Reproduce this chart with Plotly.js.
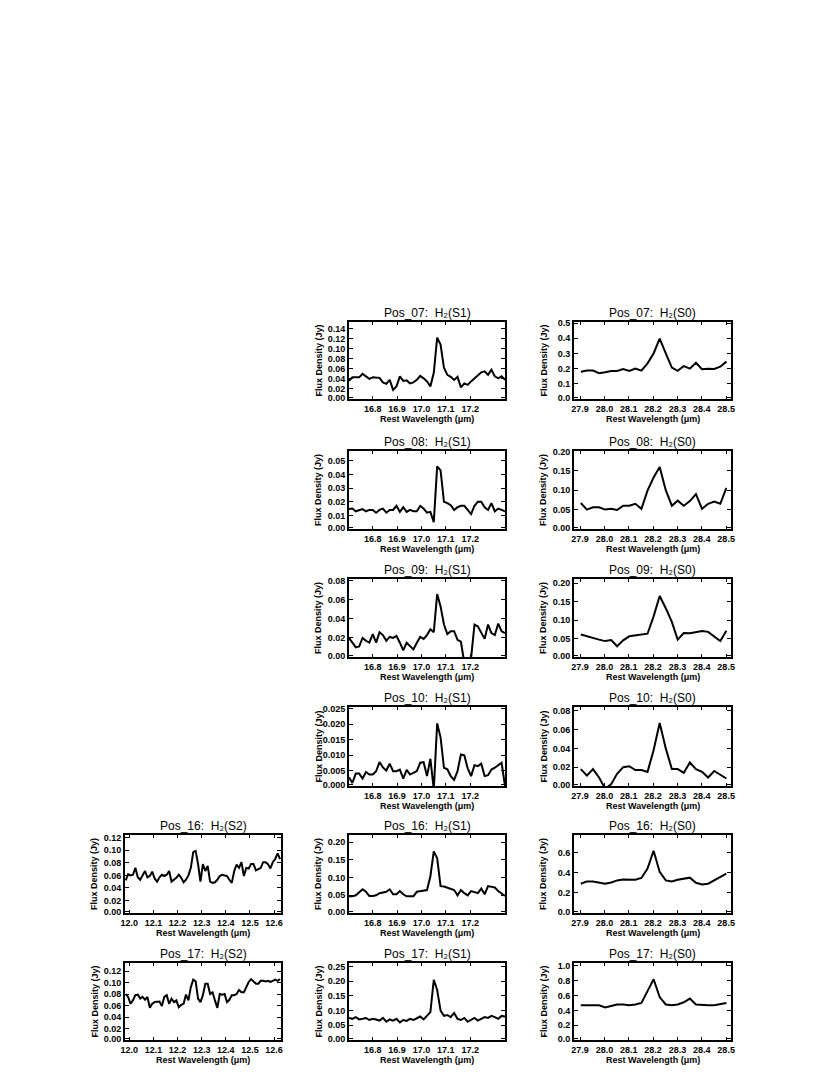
<!DOCTYPE html>
<html>
<head>
<meta charset="utf-8">
<script src="https://cdn.plot.ly/plotly-3.0.1.min.js"></script>
<style>
  body { margin: 0; background: #fff; }
  #plot { width: 830px; height: 1075px; }
</style>
</head>
<body>
<div id="plot"></div>
<script>
// wavelength grids (micron)
var lamS2 = [11.985, 11.995, 12.005, 12.015, 12.025, 12.035, 12.045, 12.055, 12.065, 12.075,
  12.085, 12.095, 12.105, 12.115, 12.125, 12.135, 12.145, 12.155, 12.165, 12.175,
  12.185, 12.195, 12.205, 12.215, 12.225, 12.235, 12.245, 12.255, 12.265, 12.275,
  12.285, 12.295, 12.305, 12.315, 12.325, 12.335, 12.345, 12.355, 12.365, 12.375,
  12.385, 12.395, 12.405, 12.415, 12.425, 12.435, 12.445, 12.455, 12.465, 12.475,
  12.485, 12.495, 12.505, 12.515, 12.525, 12.535, 12.545, 12.555, 12.565, 12.575,
  12.585, 12.595, 12.605, 12.615, 12.625];
var lamS1 = [16.7030, 16.7169, 16.7308, 16.7447, 16.7586, 16.7725, 16.7864, 16.8003, 16.8142, 16.8281,
  16.8420, 16.8559, 16.8698, 16.8837, 16.8976, 16.9115, 16.9254, 16.9393, 16.9532, 16.9671,
  16.9810, 16.9949, 17.0088, 17.0227, 17.0366, 17.0505, 17.0644, 17.0783, 17.0922, 17.1061,
  17.1200, 17.1339, 17.1478, 17.1617, 17.1756, 17.1895, 17.2034, 17.2173, 17.2312, 17.2451,
  17.2590, 17.2729, 17.2868, 17.3007, 17.3146, 17.3285, 17.3424];
var lamS0 = [27.903, 27.928, 27.953, 27.978, 28.003, 28.028, 28.052, 28.077, 28.102, 28.127,
  28.152, 28.177, 28.202, 28.227, 28.252, 28.277, 28.301, 28.326, 28.351, 28.376,
  28.401, 28.426, 28.451, 28.476, 28.501];

// flux densities (Jy)
var pos07S1 = [0.036, 0.043, 0.043, 0.043, 0.050, 0.045, 0.040, 0.043, 0.043, 0.042,
  0.033, 0.030, 0.038, 0.018, 0.025, 0.045, 0.036, 0.037, 0.031, 0.033,
  0.038, 0.046, 0.041, 0.035, 0.025, 0.052, 0.122, 0.108, 0.062, 0.048,
  0.044, 0.038, 0.044, 0.023, 0.031, 0.028, 0.035, 0.041, 0.045, 0.053,
  0.055, 0.048, 0.058, 0.045, 0.041, 0.045, 0.038];
var pos08S1 = [0.0146, 0.015, 0.013, 0.014, 0.0146, 0.013, 0.014, 0.014, 0.012, 0.014,
  0.015, 0.012, 0.014, 0.014, 0.017, 0.0126, 0.016, 0.0126, 0.014, 0.013,
  0.013, 0.017, 0.015, 0.012, 0.0126, 0.005, 0.046, 0.043, 0.020, 0.019,
  0.0175, 0.014, 0.016, 0.017, 0.017, 0.014, 0.011, 0.017, 0.020, 0.020,
  0.016, 0.014, 0.019, 0.013, 0.015, 0.014, 0.013];
var pos09S1 = [0.020, 0.015, 0.010, 0.011, 0.020, 0.017, 0.015, 0.024, 0.015, 0.026,
  0.023, 0.017, 0.021, 0.020, 0.022, 0.015, 0.007, 0.015, 0.012, 0.008,
  0.015, 0.021, 0.019, 0.023, 0.029, 0.026, 0.066, 0.053, 0.034, 0.024,
  0.027, 0.027, 0.018, 0.016, -0.006, -0.010, -0.001, 0.034, 0.032, 0.025,
  0.019, 0.034, 0.025, 0.023, 0.035, 0.027, 0.025];
var pos10S1 = [0.0028, 0.001, 0.004, 0.004, 0.0024, 0.0045, 0.0037, 0.0037, 0.0048, 0.0077,
  0.006, 0.005, 0.0072, 0.0048, 0.0048, 0.0053, 0.0024, 0.0052, 0.0037, 0.0042,
  0.0048, 0.0075, 0.0077, 0.0032, 0.0088, -0.0012, 0.0202, 0.0157, 0.0059, 0.0054,
  0.0032, 0.002, 0.0048, 0.0102, 0.0099, 0.0057, 0.0032, 0.0067, 0.0064, 0.0072,
  0.0032, 0.0035, 0.0053, 0.0059, 0.0067, 0.0075, 0.000];
var pos16S1 = [0.047, 0.047, 0.050, 0.058, 0.067, 0.060, 0.048, 0.048, 0.050, 0.056,
  0.058, 0.060, 0.067, 0.053, 0.053, 0.062, 0.053, 0.047, 0.047, 0.047,
  0.060, 0.062, 0.062, 0.065, 0.104, 0.174, 0.155, 0.076, 0.075, 0.072,
  0.069, 0.065, 0.050, 0.065, 0.056, 0.050, 0.062, 0.060, 0.056, 0.069,
  0.053, 0.076, 0.075, 0.072, 0.062, 0.056, 0.048];
var pos17S1 = [0.075, 0.072, 0.078, 0.070, 0.072, 0.075, 0.068, 0.072, 0.070, 0.066,
  0.075, 0.062, 0.070, 0.066, 0.072, 0.060, 0.068, 0.065, 0.072, 0.068,
  0.074, 0.080, 0.070, 0.082, 0.095, 0.205, 0.170, 0.100, 0.082, 0.085,
  0.078, 0.092, 0.072, 0.068, 0.075, 0.062, 0.070, 0.075, 0.066, 0.072,
  0.078, 0.075, 0.082, 0.078, 0.072, 0.082, 0.080];

var pos07S0 = [0.180, 0.187, 0.187, 0.170, 0.176, 0.185, 0.185, 0.198, 0.185, 0.200,
  0.187, 0.235, 0.300, 0.398, 0.300, 0.207, 0.185, 0.217, 0.200, 0.239,
  0.196, 0.200, 0.198, 0.213, 0.246];
var pos08S0 = [0.067, 0.050, 0.056, 0.056, 0.050, 0.052, 0.049, 0.060, 0.060, 0.065,
  0.052, 0.099, 0.133, 0.160, 0.100, 0.060, 0.073, 0.060, 0.072, 0.090,
  0.052, 0.065, 0.071, 0.065, 0.106];
var pos09S0 = [0.061, 0.056, 0.050, 0.047, 0.043, 0.046, 0.029, 0.045, 0.056, 0.058,
  0.061, 0.063, 0.110, 0.165, 0.132, 0.095, 0.047, 0.065, 0.064, 0.067,
  0.070, 0.068, 0.056, 0.043, 0.071];
var pos10S0 = [0.018, 0.011, 0.018, 0.009, -0.003, 0.002, 0.013, 0.020, 0.021, 0.017,
  0.017, 0.015, 0.038, 0.067, 0.040, 0.018, 0.018, 0.014, 0.025, 0.018,
  0.015, 0.009, 0.016, 0.012, 0.008];
var pos16S0 = [0.290, 0.313, 0.313, 0.303, 0.290, 0.303, 0.323, 0.333, 0.333, 0.330,
  0.347, 0.440, 0.617, 0.407, 0.323, 0.313, 0.330, 0.340, 0.350, 0.300,
  0.283, 0.290, 0.323, 0.350, 0.390];
var pos17S0 = [0.47, 0.47, 0.47, 0.47, 0.44, 0.46, 0.48, 0.48, 0.47, 0.48,
  0.50, 0.66, 0.82, 0.58, 0.48, 0.47, 0.48, 0.51, 0.56, 0.48,
  0.47, 0.47, 0.47, 0.48, 0.50];

var pos16S2 = [0.052, 0.062, 0.060, 0.061, 0.072, 0.057, 0.053, 0.059, 0.067, 0.057,
  0.059, 0.066, 0.055, 0.050, 0.057, 0.061, 0.059, 0.061, 0.067, 0.050,
  0.053, 0.056, 0.061, 0.056, 0.049, 0.053, 0.060, 0.072, 0.097, 0.099,
  0.078, 0.050, 0.078, 0.067, 0.075, 0.050, 0.048, 0.049, 0.053, 0.059,
  0.061, 0.060, 0.059, 0.053, 0.048, 0.067, 0.077, 0.072, 0.081, 0.059,
  0.072, 0.071, 0.078, 0.078, 0.068, 0.070, 0.072, 0.081, 0.081, 0.078,
  0.071, 0.081, 0.086, 0.095, 0.086];
var pos17S2 = [0.080, 0.075, 0.063, 0.069, 0.078, 0.079, 0.072, 0.075, 0.070, 0.075,
  0.056, 0.063, 0.066, 0.066, 0.067, 0.059, 0.075, 0.078, 0.063, 0.072,
  0.066, 0.069, 0.057, 0.061, 0.063, 0.079, 0.069, 0.092, 0.105, 0.102,
  0.072, 0.066, 0.078, 0.098, 0.098, 0.080, 0.083, 0.069, 0.056, 0.080,
  0.079, 0.080, 0.066, 0.070, 0.078, 0.078, 0.080, 0.087, 0.083, 0.083,
  0.092, 0.101, 0.106, 0.102, 0.098, 0.098, 0.103, 0.103, 0.102, 0.103,
  0.101, 0.103, 0.105, 0.103, 0.106];

// x tick labels
var ticksS2 = [12.0, 12.1, 12.2, 12.3, 12.4, 12.5, 12.6];
var ticksS1 = [16.8, 16.9, 17.0, 17.1, 17.2];
var ticksS0 = [27.9, 28.0, 28.1, 28.2, 28.3, 28.4, 28.5];

var W = 830, H = 1075;
// frame boxes in pixels
var colX = [[125, 281], [349, 505], [574, 731]];
var rowY = [[322, 399], [451, 529], [579, 657], [707, 786], [835, 913], [963, 1040]];

var lineInfo = {
  S2: {lam: lamS2, range: [11.982, 12.629], ticks: ticksS2, col: 0},
  S1: {lam: lamS1, range: [16.703, 17.3424], ticks: ticksS1, col: 1},
  S0: {lam: lamS0, range: [27.875, 28.52], ticks: ticksS0, col: 2}
};

var panels = [
  {pos: '07', line: 'S1', row: 0, y: pos07S1, top: 0.153, step: 0.02, dec: 2},
  {pos: '07', line: 'S0', row: 0, y: pos07S0, top: 0.507, step: 0.1, dec: 1},
  {pos: '08', line: 'S1', row: 1, y: pos08S1, top: 0.0573, step: 0.01, dec: 2},
  {pos: '08', line: 'S0', row: 1, y: pos08S0, top: 0.201, step: 0.05, dec: 2},
  {pos: '09', line: 'S1', row: 2, y: pos09S1, top: 0.0817, step: 0.02, dec: 2},
  {pos: '09', line: 'S0', row: 2, y: pos09S0, top: 0.211, step: 0.05, dec: 2},
  {pos: '10', line: 'S1', row: 3, y: pos10S1, top: 0.0255, step: 0.005, dec: 3},
  {pos: '10', line: 'S0', row: 3, y: pos10S0, top: 0.084, step: 0.02, dec: 2},
  {pos: '16', line: 'S2', row: 4, y: pos16S2, top: 0.1244, step: 0.02, dec: 2},
  {pos: '16', line: 'S1', row: 4, y: pos16S1, top: 0.2205, step: 0.05, dec: 2},
  {pos: '16', line: 'S0', row: 4, y: pos16S0, top: 0.773, step: 0.2, dec: 1},
  {pos: '17', line: 'S2', row: 5, y: pos17S2, top: 0.134, step: 0.02, dec: 2},
  {pos: '17', line: 'S1', row: 5, y: pos17S1, top: 0.262, step: 0.05, dec: 2},
  {pos: '17', line: 'S0', row: 5, y: pos17S0, top: 1.04, step: 0.2, dec: 1}
];

var labelFont = {family: 'Liberation Sans, Arial, sans-serif', size: 9, color: '#000', weight: 'bold'};
var titleFont = {family: 'Liberation Sans, DejaVu Sans, sans-serif', size: 12, color: '#000'};

var data = [];
var layout = {
  width: W,
  height: H,
  margin: {l: 0, r: 0, t: 0, b: 0},
  paper_bgcolor: '#fff',
  plot_bgcolor: '#fff',
  showlegend: false,
  annotations: []
};

function px(x) { return x / W; }
function py(y) { return 1 - y / H; }

panels.forEach(function (p, k) {
  var n = k + 1;
  var info = lineInfo[p.line];
  var cx = colX[info.col], ry = rowY[p.row];
  var xa = 'x' + (n === 1 ? '' : n), ya = 'y' + (n === 1 ? '' : n);

  data.push({
    x: info.lam,
    y: p.y,
    xaxis: xa,
    yaxis: ya,
    type: 'scatter',
    mode: 'lines',
    line: {color: '#000', width: 2},
    hoverinfo: 'skip'
  });

  // y ticks; the bottom label sits a little above the frame
  var tv = [], tt = [];
  for (var v = 0; v <= p.top + 1e-9; v += p.step) {
    var val = Math.round(v / p.step) * p.step;
    if (val > p.top) break;
    tv.push(val === 0 ? p.top * 1.5 / (ry[1] - ry[0]) : val);
    tt.push(val.toFixed(p.dec));
  }

  var axStyle = {
    showline: true, linewidth: 2, linecolor: '#000', mirror: 'ticks',
    ticks: 'inside', tickwidth: 1, tickcolor: '#000',
    showgrid: false, zeroline: false, tickfont: labelFont, fixedrange: true
  };

  layout['xaxis' + (n === 1 ? '' : n)] = Object.assign({}, axStyle, {
    domain: [px(cx[0]), px(cx[1])],
    anchor: ya,
    range: info.range,
    tickvals: info.ticks,
    ticktext: info.ticks.map(function (t) { return t.toFixed(1); }),
    ticklen: 3
  });
  layout['yaxis' + (n === 1 ? '' : n)] = Object.assign({}, axStyle, {
    domain: [py(ry[1]), py(ry[0])],
    anchor: xa,
    range: [0, p.top],
    tickvals: tv,
    ticktext: tt,
    ticklen: 4
  });

  var mid = (cx[0] + cx[1]) / 2;
  layout.annotations.push({
    xref: 'paper', yref: 'paper', x: px(mid), y: py(ry[0] - 9),
    text: 'Pos_' + p.pos + ':  H\u2082(' + p.line + ')',
    showarrow: false, xanchor: 'center', yanchor: 'middle', font: titleFont
  });
  layout.annotations.push({
    xref: 'paper', yref: 'paper', x: px(mid), y: py(ry[1] + 20),
    text: 'Rest Wavelength (\u03bcm)',
    showarrow: false, xanchor: 'center', yanchor: 'middle', font: labelFont
  });
  layout.annotations.push({
    xref: 'paper', yref: 'paper', x: px(cx[0] - 31), y: py((ry[0] + ry[1]) / 2),
    text: 'Flux Density (Jy)', textangle: -90,
    showarrow: false, xanchor: 'center', yanchor: 'middle', font: labelFont
  });
});

Plotly.newPlot('plot', data, layout, {staticPlot: true});
</script>
</body>
</html>
